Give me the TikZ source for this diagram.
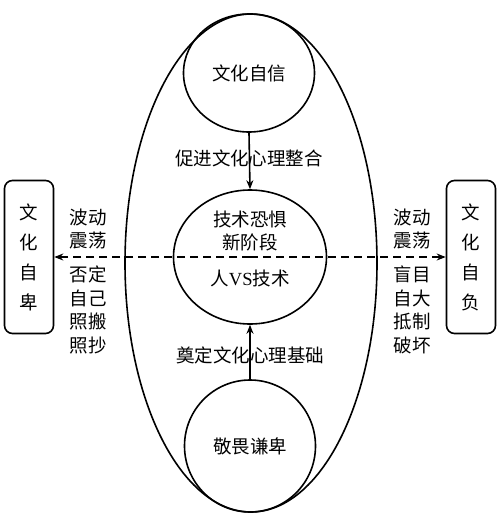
\documentclass[tikz,border=0pt]{standalone}
\usepackage{fontspec}
\setmainfont{Liberation Serif}
\newfontfamily\cjk{Noto Sans CJK SC}
\usetikzlibrary{arrows.meta,shapes.geometric}
\begin{document}
\begin{tikzpicture}[x=1pt,y=-1pt,
  ln/.style={line width=1.6pt},
  txt/.style={font=\cjk\fontsize{18.5}{23.5}\selectfont, inner sep=0pt, align=center},
  arr/.style={ln,-{Stealth[length=9pt,width=7pt]}},
  darr/.style={ln,dash pattern=on 8pt off 5pt,-{Stealth[length=9pt,width=7pt]}},
  sidebox/.style={ln,draw,rounded corners=8pt,minimum width=49pt,minimum height=153pt,inner sep=0pt}
]
\useasboundingbox (0,0) rectangle (500,523);
% outer ellipse
\node[ln,draw,ellipse,minimum width=252pt,minimum height=498pt,inner sep=0pt] (outer) at (251,263) {};
% circles
\node[ln,draw,ellipse,minimum width=131pt,minimum height=118pt,inner sep=0pt] (top) at (249,73) {};
\node[txt] (toptxt) at (249,73) {文化自信};
\node[ln,draw,ellipse,minimum width=153pt,minimum height=134pt,inner sep=0pt] (mid) at (250,257) {};
\node[txt] (midtxt1) at (250,231) {技术恐惧\\新阶段};
\node[txt] (midtxt2) at (250,278) {人{\rmfamily VS}技术};
\node[ln,draw,ellipse,minimum width=131pt,minimum height=132pt,inner sep=0pt] (bot) at (250,446) {};
\node[txt] (bottxt) at (250,446) {敬畏谦卑};
% side boxes
\node[sidebox] (lbox) at (29,257) {};
\node[txt,font=\cjk\fontsize{18.5}{30}\selectfont] (ltxt) at (29,257) {文\\化\\自\\卑};
\node[sidebox] (rbox) at (471,257) {};
\node[txt,font=\cjk\fontsize{18.5}{30}\selectfont] (rtxt) at (471,257) {文\\化\\自\\负};
% vertical arrows
\draw[arr] (top.south) -- (mid.north);
\draw[arr] (bot.north) -- (mid.south);
\node[txt] (lab1) at (249,158) {促进文化心理整合};
\node[txt] (lab2) at (250,355) {奠定文化心理基础};
% dashed arrows
\coordinate (c) at (250,257);
\draw[darr] (c) -- (lbox.east);
\draw[darr] (c) -- (rbox.west);
% side labels
\node[txt] (l1) at (88,229) {波动\\震荡};
\node[txt] (l2) at (88,310) {否定\\自己\\照搬\\照抄};
\node[txt] (r1) at (412,229) {波动\\震荡};
\node[txt] (r2) at (412,310) {盲目\\自大\\抵制\\破坏};
\end{tikzpicture}
\end{document}
